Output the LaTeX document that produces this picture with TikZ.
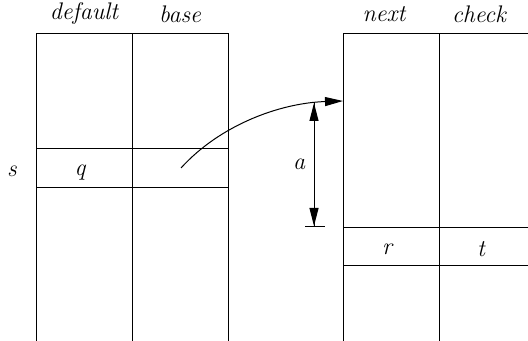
\documentclass[tikz,border=0pt]{standalone}
\usetikzlibrary{arrows.meta}

\begin{document}
\begin{tikzpicture}[x=0.5pt, y=-0.5pt, line width=0.5pt,
  lbl/.style={font=\fontsize{12}{14}\selectfont\itshape, inner sep=0pt},
  tip/.style={-{Triangle[length=9pt, width=4.5pt]}}]

\useasboundingbox (0,0) rectangle (528,341);

% Left table (default / base)
\def\LL{36}   % left edge
\def\LM{132}  % middle
\def\LR{228}  % right edge
\draw (\LL,341) -- (\LL,34) -- (\LR,34) -- (\LR,341);
\draw (\LM,34) -- (\LM,341);
\draw (\LL,149) -- (\LR,149);
\draw (\LL,188) -- (\LR,188);

% Right table (next / check)
\def\RL{343}  % left edge
\def\RM{439}  % middle
\def\RR{528}  % right edge
\draw (\RL,341) -- (\RL,34) -- (\RR,34);
\draw (\RM,34) -- (\RM,341);
\draw (\RL,227) -- (\RR,227);
\draw (\RL,265) -- (\RR,265);

% Headings
\node[lbl] (default) at (84,14) {default};
\node[lbl] (base) at (180,14) {base};
\node[lbl] (next) at (384,14) {next};
\node[lbl] (check) at (479,14) {check};

% Entries
\node[lbl] (s) at (12,171) {s};
\node[lbl] (q) at (80,173) {q};
\node[lbl] (r) at (387,249) {r};
\node[lbl] (t) at (481,249) {t};

% Pointer from base to next
\coordinate (src) at (181,168);
\coordinate (dst) at (343,101);
\draw[tip] (src) .. controls (220,125) and (280,103) .. (dst);

% Offset a
\coordinate (atop) at (314,103);
\coordinate (abot) at (314,226);
\draw[tip] (abot) -- (atop);
\draw[tip] (atop) -- (abot);
\draw (305,226) -- (325,226);
\node[lbl] (a) at (299,164) {a};

\end{tikzpicture}
\end{document}
